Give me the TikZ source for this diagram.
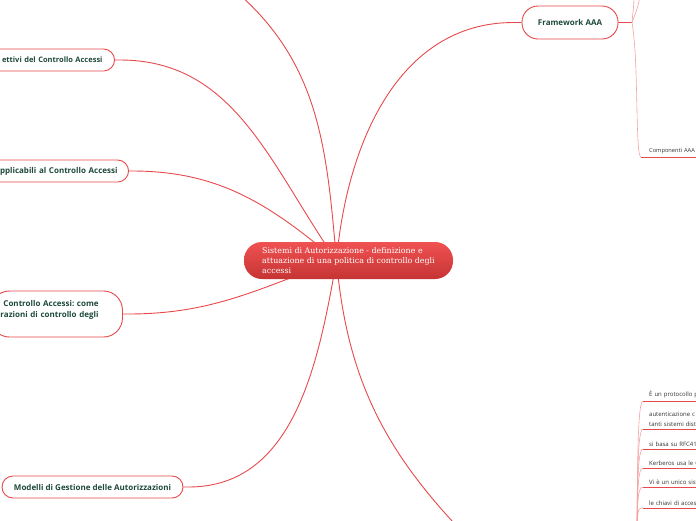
\documentclass[tikz,border=0pt]{standalone}
\usepackage{fontspec}
\setmainfont{Open Sans}
\newfontfamily\rootfont{DejaVu Serif}
\usetikzlibrary{positioning, backgrounds}
\definecolor{mmred}{HTML}{E8494C}
\definecolor{mmpink}{HTML}{F5A3A3}
\definecolor{mmgreen}{HTML}{1E4A3A}
\definecolor{mmgrey}{HTML}{333333}
\definecolor{rtop}{HTML}{F05252}
\definecolor{rbot}{HTML}{C63333}
\frenchspacing

\begin{document}
\begin{tikzpicture}[
      x=1pt, y=-1pt,
      topic/.style={rectangle, rounded corners=11pt, draw=mmred, line width=0.9pt,
                    fill=white, text=mmgreen, minimum height=22pt, inner xsep=12pt,
                    font=\fontsize{8}{11}\selectfont\bfseries},
      leaf/.style={anchor=south west, inner xsep=6pt, inner ysep=2.5pt, text width=80pt,
                   align=left, text=mmgrey, font=\fontsize{6}{9.5}\selectfont},
      branch/.style={draw=mmred, line width=0.9pt},
      twig/.style={draw=mmpink, line width=0.6pt},
      uline/.style={draw=mmred, line width=0.8pt},
    ]
      \useasboundingbox (0,0) rectangle (696,520);

      \node[rectangle, rounded corners=18pt, minimum width=209pt, minimum height=37pt,
            top color=rtop, bottom color=rbot, text=white, align=left,
            font=\rootfont\fontsize{7.9}{10}\selectfont] (root) at (348.5,260.5)
            {Sistemi di Autorizzazione - definizione e\\attuazione di una politica di controllo degli\\accessi};

      \node[topic, anchor=east, inner xsep=12pt, text width=140pt, align=right,
            font=\fontsize{7.5}{11}\selectfont\bfseries] (obj) at (115,60) {ettivi del Controllo Accessi};
      \node[topic, anchor=east, inner xsep=11pt, text width=150pt, align=right] (app) at (129,171) {pplicabili al Controllo Accessi};
      \node[topic, anchor=west, text width=112pt, align=left, inner xsep=10pt,
            minimum height=46pt, rounded corners=19pt] (ctl) at (-10,314)
            {\hspace*{3pt}Controllo Accessi: come\\razioni di controllo degli\\\mbox{}};
      \node[topic, minimum width=181pt, inner xsep=6pt] (mod) at (92.5,487) {Modelli di Gestione delle Autorizzazioni};
      \node[topic, minimum width=96pt, minimum height=33pt, rounded corners=16pt] (fw) at (570,22.5) {Framework AAA};

      \node[leaf, inner xsep=8pt, font=\fontsize{5.7}{9}\selectfont] (comp) at (641,157) {Componenti AAA};
      \node[leaf] (k1) at (643,401) {È un protocollo p};
      \node[leaf] (k2) at (643,429) {autenticazione c\\tanti sistemi dist};
      \node[leaf] (k3) at (643,449) {si basa su RFC41};
      \node[leaf] (k4) at (643,468) {Kerberos usa le C};
      \node[leaf] (k5) at (643,487) {Vi è un unico siste};
      \node[leaf] (k6) at (643,508) {le chiavi di acces};

      \begin{scope}[on background layer]
        \fill[white] (0,0) rectangle (696,520);
        \coordinate (hub) at ([xshift=-12pt]root.center);
        \coordinate (topend) at (232,-12);
        \coordinate (botend) at (478,548);
        \coordinate (fwj) at (632,22.5);
        \coordinate (up1) at (634,-6);
        \coordinate (up2) at (640,-6);
        \coordinate (lst) at (636,570);

        \path[branch] (topend) to[out=-40,in=95] (hub);
        \path[branch] (obj.east) -- ++(5,0) to[out=0,in=125] (hub);
        \path[branch] (app.east) -- ++(3,0) to[out=0,in=140] (hub);
        \path[branch] (ctl.east) -- ++(5,0) to[out=0,in=200] (hub);
        \path[branch] (mod.east) -- ++(5,0) to[out=0,in=-100] (hub);
        \path[branch] (fw.west) -- ++(-8,0) to[out=180,in=85] (hub);
        \path[branch] (hub) to[out=-85,in=135] (botend);

        \path[branch] (fw.east) -- (fwj);
        \path[twig] (fwj) to[out=85,in=-90] (up1);
        \path[twig] (fwj) to[out=70,in=-95] (up2);
        \path[twig] (fwj) to[out=-80,in=180,out distance=40pt,in distance=6pt] (comp.south west);
        \path[uline] (comp.south west) -- (comp.south east);

        \foreach \k in {k1,k2,k3,k4,k5,k6} {
          \path[twig] (lst) to[out=88,in=180,out distance=60pt,in distance=7pt] (\k.south west);
          \path[uline] (\k.south west) -- (\k.south east);
        }
      \end{scope}
    \end{tikzpicture}
\end{document}
